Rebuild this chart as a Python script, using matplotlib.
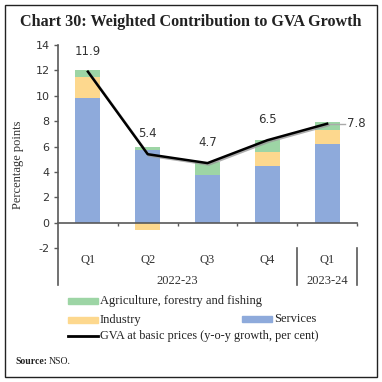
import matplotlib.pyplot as plt
import matplotlib.patheffects as pe
from matplotlib.patches import Rectangle
from matplotlib.lines import Line2D

quarters = ["Q1", "Q2", "Q3", "Q4", "Q1"]
years = ["2022-23", "2023-24"]
services = [9.8, 5.7, 3.8, 4.5, 6.2]
industry = [1.7, -0.6, 0.0, 1.1, 1.1]
agriculture = [0.5, 0.3, 1.0, 0.9, 0.6]
gva = [11.9, 5.4, 4.7, 6.5, 7.8]
yticks = [-2, 0, 2, 4, 6, 8, 10, 12, 14]

C_SERV = "#8eaadb"
C_IND = "#fdd88e"
C_AGRI = "#9dd5a5"
AXC = "#595959"
SERIF = "Liberation Serif"

fig = plt.figure(figsize=(3.82, 3.82), dpi=100)

# outer frame
fig.patches.append(Rectangle((5 / 382, 5 / 382), 372 / 382, 372 / 382,
                             transform=fig.transFigure, fill=False,
                             edgecolor="#222222", linewidth=1.0))

fig.text(0.5, 1 - 22 / 382, "Chart 30: Weighted Contribution to GVA Growth",
         ha="center", va="center", family=SERIF, fontsize=11.6,
         fontweight="bold", color="#222222")

ax = fig.add_axes([58 / 382, 1 - 285 / 382, 299 / 382, 240 / 382])
x = list(range(len(quarters)))
w = 0.42

# positive / negative stacking
pos_base = [0.0] * len(x)
neg_base = [0.0] * len(x)
for vals, col in [(services, C_SERV), (industry, C_IND), (agriculture, C_AGRI)]:
    bottoms = []
    for i, v in enumerate(vals):
        if v >= 0:
            bottoms.append(pos_base[i])
            pos_base[i] += v
        else:
            bottoms.append(neg_base[i])
            neg_base[i] += v
    ax.bar(x, vals, w, bottom=bottoms, color=col, zorder=2)

ax.plot(x, gva, color="black", linewidth=1.8, zorder=4,
        path_effects=[pe.SimpleLineShadow(offset=(1, -1), shadow_color="#999999", alpha=0.8),
                      pe.Normal()])

for i, v in enumerate(gva[:-1]):
    ax.text(x[i], v + 1.1, f"{v}", ha="center", va="bottom", fontsize=8.5,
            color="#333333", family="DejaVu Sans", zorder=5)
ax.plot([x[-1], x[-1] + 0.3], [gva[-1], gva[-1]], color="#aaaaaa", linewidth=1, zorder=3)
ax.text(x[-1] + 0.33, gva[-1], f"{gva[-1]}", ha="left", va="center", fontsize=8.5,
        color="#333333", family="DejaVu Sans", zorder=5)

ax.set_xlim(-0.5, 4.5)
ax.set_ylim(-4.9, 14)
ax.set_yticks(yticks)
ax.set_yticklabels([str(t) for t in yticks], fontsize=8, color="#333333")
ax.tick_params(axis="y", direction="out", length=3, color=AXC, width=1, pad=3)

for s in ["top", "right"]:
    ax.spines[s].set_visible(False)
ax.spines["left"].set_color(AXC)
ax.spines["left"].set_linewidth(1.2)
ax.spines["bottom"].set_position(("data", 0))
ax.spines["bottom"].set_color(AXC)
ax.spines["bottom"].set_linewidth(1.2)
ax.set_xticks([0.5, 1.5, 2.5, 3.5, 4.5])
ax.set_xticklabels([])
ax.tick_params(axis="x", direction="out", length=2.5, color=AXC, width=1)

for i, q in enumerate(quarters):
    ax.text(i, -2.9, q, ha="center", va="center", fontsize=9, family=SERIF, color="#333333")
ax.text(1.5, -4.6, years[0], ha="center", va="center", fontsize=9, family=SERIF, color="#333333")
ax.text(4.0, -4.6, years[1], ha="center", va="center", fontsize=9, family=SERIF, color="#333333")
for xv in [3.5, 4.5]:
    ax.plot([xv, xv], [-2, -4.9], color=AXC, linewidth=1.2, clip_on=False)

ax.set_ylabel("Percentage points", family=SERIF, fontsize=9, color="#333333", labelpad=8)

# legend drawn manually
def patch(xp, yp, col):
    fig.patches.append(Rectangle((xp / 382, 1 - (yp + 3) / 382), 30 / 382, 6 / 382,
                                 transform=fig.transFigure, color=col))

patch(68, 301, C_AGRI)
fig.text(100 / 382, 1 - 301 / 382, "Agriculture, forestry and fishing", va="center",
         family=SERIF, fontsize=9, color="#222222")
patch(68, 320, C_IND)
fig.text(100 / 382, 1 - 320 / 382, "Industry", va="center", family=SERIF, fontsize=9, color="#222222")
patch(242, 319, C_SERV)
fig.text(274 / 382, 1 - 319 / 382, "Services", va="center", family=SERIF, fontsize=9, color="#222222")
fig.lines.append(Line2D([68 / 382, 98 / 382], [1 - 336 / 382, 1 - 336 / 382],
                        transform=fig.transFigure, color="black", linewidth=2))
fig.text(100 / 382, 1 - 336 / 382, "GVA at basic prices (y-o-y growth, per cent)", va="center",
         family=SERIF, fontsize=8.8, color="#222222")

fig.text(15 / 382, 1 - 362 / 382, "Source:", va="center", family=SERIF, fontsize=7,
         fontweight="bold", color="#222222")
fig.text(49 / 382, 1 - 362 / 382, "NSO.", va="center", family=SERIF, fontsize=7, color="#222222")

fig.savefig("out.png", dpi=100)
